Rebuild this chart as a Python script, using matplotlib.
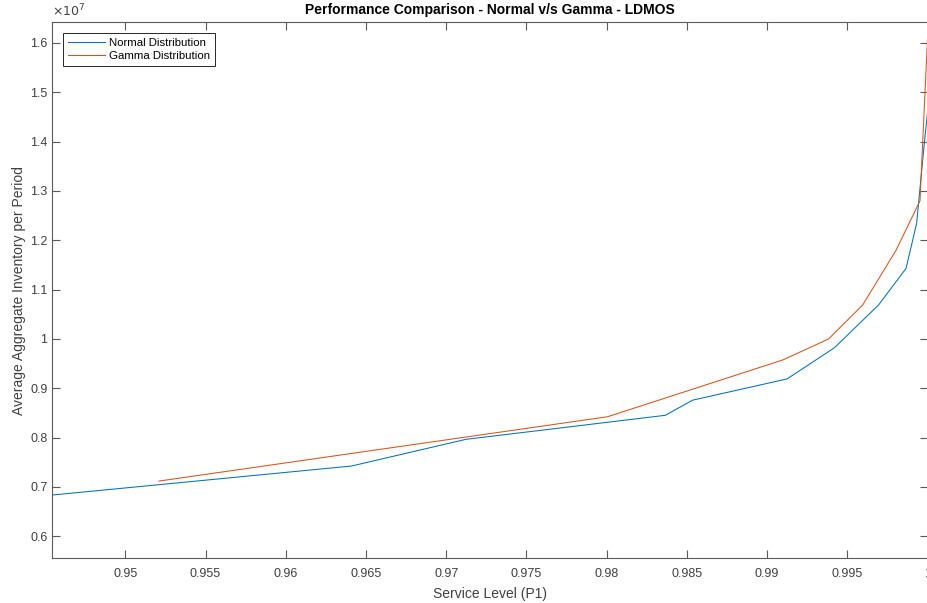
import matplotlib.pyplot as plt
from matplotlib.ticker import FuncFormatter

plt.rcParams['font.family'] = ['Liberation Sans', 'DejaVu Sans']

# service level (P1) vs average aggregate inventory, in units of 1e7
normalP1 = [0.94545, 0.9641, 0.97123, 0.98366, 0.98536, 0.99124, 0.99419,
            0.99695, 0.99866, 0.99932, 0.99981, 1.0]
normalInv = [0.6837, 0.7425, 0.7966, 0.8453, 0.876, 0.919, 0.982,
             1.069, 1.143, 1.2345, 1.40, 1.46]
gammaP1 = [0.9521, 0.98006, 0.99097, 0.99383, 0.99596, 0.99804, 0.99953, 1.0]
gammaInv = [0.712, 0.8424, 0.9574, 1.0, 1.069, 1.18, 1.28, 1.61]

xTicks = [0.95, 0.955, 0.96, 0.965, 0.97, 0.975, 0.98, 0.985, 0.99, 0.995, 1.0]
yTicks = [0.6, 0.7, 0.8, 0.9, 1.0, 1.1, 1.2, 1.3, 1.4, 1.5, 1.6]

blue = '#0072BD'
orange = '#D95319'
grey = '#262626'
spine = '#5a5a5a'
textGrey = '#404040'

fig = plt.figure(figsize=(9.28, 6.03), dpi=100)
ax = fig.add_axes([0.0564, 0.0741, 0.9431, 0.889])

ax.plot(normalP1, [v * 1e7 for v in normalInv], c=blue, lw=0.75, label='Normal Distribution')
ax.plot(gammaP1, [v * 1e7 for v in gammaInv], c=orange, lw=0.75, label='Gamma Distribution')

ax.set_xlim(0.94545, 1.0)
ax.set_ylim(0.5554e7, 1.642e7)
ax.set_xticks(xTicks)
ax.set_yticks([v * 1e7 for v in yTicks])
ax.xaxis.set_major_formatter(FuncFormatter(lambda v, p: '%g' % round(v, 4)))
ax.yaxis.set_major_formatter(FuncFormatter(lambda v, p: '%g' % round(v / 1e7, 3)))

ax.tick_params(direction='in', length=6, width=0.8, colors=spine, labelcolor=textGrey,
               labelsize=9, top=True, right=True)
ax.tick_params(axis='x', pad=7)
ax.tick_params(axis='y', pad=3.5)
for s in ax.spines.values():
    s.set_color(spine)
    s.set_linewidth(0.8)
    s.set_zorder(3)

ax.text(0.0, 1.006, r'$\times10^{7}$', transform=ax.transAxes, fontsize=9,
        color=textGrey, ha='left', va='bottom')

ax.set_title('Performance Comparison - Normal v/s Gamma - LDMOS', fontsize=10,
             fontweight='bold', color='black', pad=6)
ax.set_xlabel('Service Level (P1)', fontsize=10, color=textGrey, labelpad=5)
ax.set_ylabel('Average Aggregate Inventory per Period', fontsize=10, color=textGrey, labelpad=3)

leg = ax.legend(loc='upper left', fontsize=8.2, fancybox=False, framealpha=1,
                edgecolor=grey, borderpad=0.45, labelspacing=0.3, handlelength=3.3,
                handletextpad=0.35, borderaxespad=0.9)
leg.get_frame().set_linewidth(0.7)

fig.savefig('out.png', dpi=100)
